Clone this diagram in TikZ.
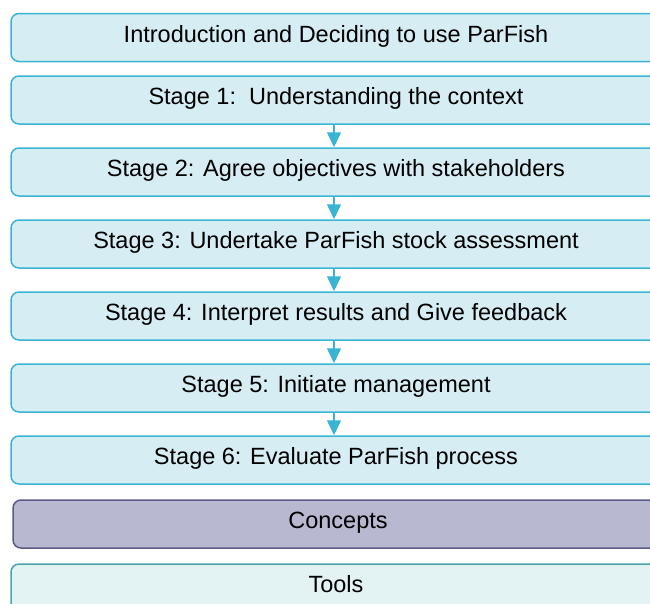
\documentclass[tikz,border=0pt]{standalone}
\usepackage{fontspec}
\setmainfont{Liberation Sans}
\usetikzlibrary{arrows.meta}
\definecolor{bfill}{HTML}{D5EDF3}
\definecolor{bline}{HTML}{3AB4D4}
\definecolor{cfill}{HTML}{B8B8D1}
\definecolor{cline}{HTML}{5A5A86}
\definecolor{tfill}{HTML}{E3F3F4}
\definecolor{tline}{HTML}{4AA3AA}
\tikzset{
  stagebox/.style={draw=bline, fill=bfill, line width=1.5pt, rounded corners=8pt,
    minimum width=650pt, minimum height=48pt, inner sep=0pt, text height=9.5pt, text depth=0pt,
    font=\fontsize{23.5}{26}\selectfont, text=black},
  conceptbox/.style={stagebox, draw=cline, fill=cfill},
  toolbox/.style={stagebox, draw=tline, fill=tfill},
  flowarrow/.style={draw=bline, line width=1.5pt, -{Triangle[width=14pt,length=15pt]}}
}
\begin{document}
\begin{tikzpicture}[x=1pt,y=-1pt]
\useasboundingbox (0,0) rectangle (650,603);
\clip (0,0) rectangle (650,603);
\node[stagebox] (intro) at (336,37.5) {Introduction and Deciding to use ParFish};
\node[stagebox] (s1) at (336,100) {Stage 1:\ \ Understanding the context};
\node[stagebox] (s2) at (336,172) {Stage 2: Agree objectives with stakeholders};
\node[stagebox] (s3) at (336,244) {Stage 3: Undertake ParFish stock assessment};
\node[stagebox] (s4) at (336,316) {Stage 4: Interpret results and Give feedback};
\node[stagebox] (s5) at (336,388) {Stage 5: Initiate management};
\node[stagebox] (s6) at (336,460) {Stage 6: Evaluate ParFish process};
\node[conceptbox] (c) at (338,524) {Concepts};
\node[toolbox] (t) at (336,588) {Tools};
\foreach \a/\b in {s1/s2,s2/s3,s3/s4,s4/s5,s5/s6}{
  \draw[flowarrow] ([xshift=-2pt]\a.south) -- ([xshift=-2pt]\b.north);
}
\end{tikzpicture}
\end{document}
